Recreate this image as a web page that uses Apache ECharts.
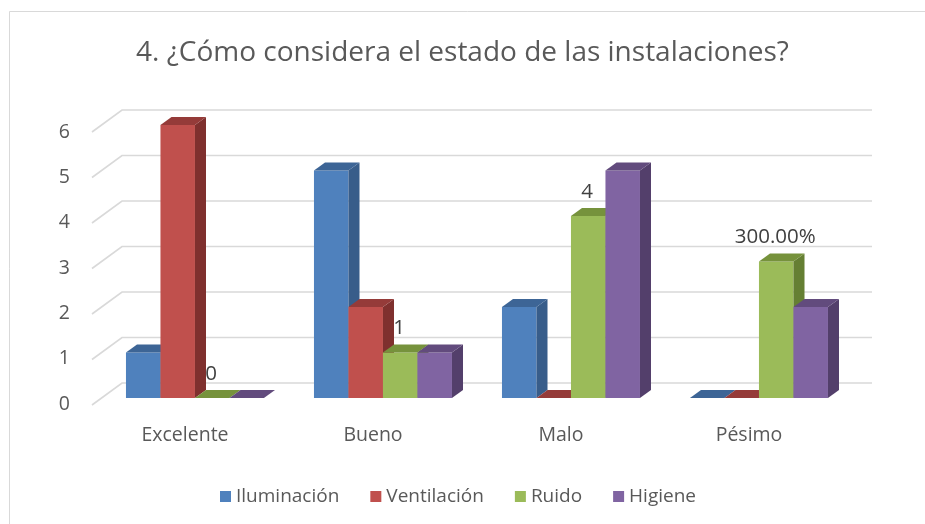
<!DOCTYPE html>
<html>
<head>
<meta charset="utf-8">
<script src="https://cdn.jsdelivr.net/npm/echarts@6/dist/echarts.min.js"></script>
<style>html,body{margin:0;padding:0;background:#fff;}#c{width:925px;height:524px;}</style>
</head>
<body>
<div id="c"></div>
<script>
var titleText = '4. ¿Cómo considera el estado de las instalaciones?';
var categories = ['Excelente', 'Bueno', 'Malo', 'Pésimo'];
var seriesNames = ['Iluminación', 'Ventilación', 'Ruido', 'Higiene'];
var iluminacion = [1, 5, 2, 0];
var ventilacion = [6, 2, 0, 0];
var ruido = [0, 1, 4, 3];
var higiene = [0, 1, 5, 2];
var ruidoLabels = ['0', '1', '4', '300.00%'];
var yTicks = [0, 1, 2, 3, 4, 5, 6];

var seriesValues = [iluminacion, ventilacion, ruido, higiene];
var seriesLabels = [null, null, ruidoLabels, null];
var frontColors = ['#4F81BD', '#C0504D', '#9BBB59', '#8064A2'];
var topColors = ['#3D6596', '#953B39', '#76923C', '#624B7D'];
var sideColors = ['#385D8A', '#7F302E', '#657F33', '#533F6B'];
var FONT = '"Open Sans", "Noto Sans", sans-serif';
var TXT = '#595959';

var chart = echarts.init(document.getElementById('c'), null, {renderer: 'canvas'});

function barRender(sIdx) {
  return function (params, api) {
    var cat = api.value(0), val = api.value(1);
    var top = api.coord([cat, val]);
    var base = api.coord([cat, 0]);
    var band = api.size([1, 0])[0];
    var w = band * 0.1835;
    var dx = w * 0.32, dy = w * 0.235;
    var x0 = top[0] + band * 0.053 + (sIdx - 2) * w;
    var yT = top[1], yB = base[1];
    var children = [];
    if (yB - yT > 0.5) {
      children.push({type: 'rect', shape: {x: x0, y: yT, width: w, height: yB - yT}, style: {fill: frontColors[sIdx]}});
      children.push({type: 'polygon', shape: {points: [[x0 + w, yT], [x0 + w + dx, yT - dy], [x0 + w + dx, yB - dy], [x0 + w, yB]]}, style: {fill: sideColors[sIdx]}});
    }
    children.push({type: 'polygon', shape: {points: [[x0, yT], [x0 + w, yT], [x0 + w + dx, yT - dy], [x0 + dx, yT - dy]]}, style: {fill: topColors[sIdx]}});
    var labs = seriesLabels[sIdx];
    if (labs) {
      children.push({type: 'text', style: {text: labs[params.dataIndex], x: x0 + w / 2 - 1, y: yT - 24, align: 'center', verticalAlign: 'middle', font: '20.5px ' + FONT, fill: '#404040'}});
    }
    return {type: 'group', children: children};
  };
}

var series = [];
series.push({
  type: 'custom', name: '_grid', xAxisIndex: 0, yAxisIndex: 0, silent: true, z: 1,
  data: yTicks.map(function (v) { return [0, v]; }),
  renderItem: function (params, api) {
    var p = api.coord([0, api.value(1)]);
    var y = p[1];
    return {type: 'polyline', shape: {points: [[92, y + 7], [122, y - 15], [872, y - 15]]}, style: {stroke: '#D9D9D9', lineWidth: 1.6, fill: null}};
  }
});
seriesNames.forEach(function (name, i) {
  series.push({
    type: 'custom', name: name, xAxisIndex: 0, yAxisIndex: 0, z: 2 + i,
    itemStyle: {color: frontColors[i]},
    data: seriesValues[i].map(function (v, k) { return [k, v]; }),
    renderItem: barRender(i)
  });
});

chart.setOption({
  animation: false,
  backgroundColor: '#fff',
  graphic: [{type: 'rect', shape: {x: 9.5, y: 11.5, width: 1000, height: 1000}, style: {fill: null, stroke: '#D9D9D9', lineWidth: 1}, z: 0}],
  title: {text: titleText, left: 'center', top: 34, textStyle: {fontFamily: FONT, fontSize: 28, fontWeight: 'normal', color: TXT}},
  legend: {
    data: seriesNames.map(function (n, i) { return {name: n, icon: 'rect', itemStyle: {color: frontColors[i]}}; }),
    left: 215, top: 482, itemWidth: 11, itemHeight: 11, itemGap: 31,
    textStyle: {fontFamily: FONT, fontSize: 19, color: TXT}
  },
  grid: [
    {left: 91, right: 82, top: 125, bottom: 126},
    {left: 92, right: 82, top: 132, bottom: 120}
  ],
  xAxis: [
    {type: 'category', gridIndex: 0, data: categories, boundaryGap: true,
      axisLine: {show: false}, axisTick: {show: false},
      axisLabel: {margin: 27, fontFamily: FONT, fontSize: 19.5, color: TXT}},
    {type: 'category', gridIndex: 1, data: categories, show: false}
  ],
  yAxis: [
    {type: 'value', gridIndex: 0, min: 0, max: 6, interval: 1, show: false},
    {type: 'value', gridIndex: 1, min: 0, max: 6, interval: 1,
      axisLine: {show: false}, axisTick: {show: false}, splitLine: {show: false},
      axisLabel: {margin: 22, fontFamily: FONT, fontSize: 19.5, color: TXT}}
  ],
  series: series
});
</script>
</body>
</html>
